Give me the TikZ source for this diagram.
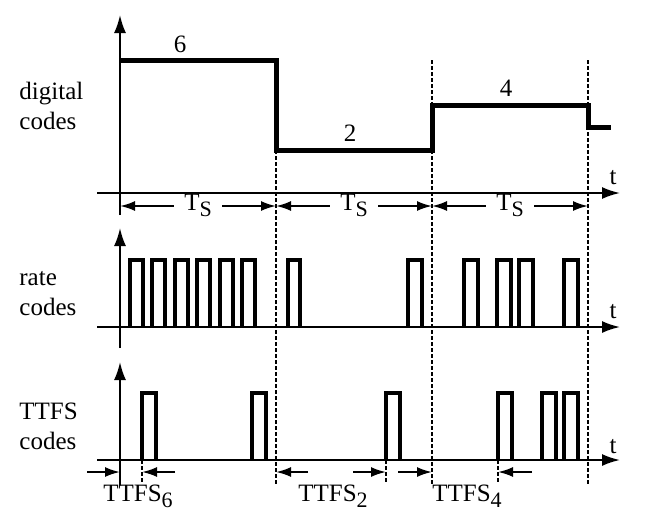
\documentclass[tikz,border=0pt]{standalone}
\usepackage{fontspec}
\setmainfont{Liberation Serif}
\usetikzlibrary{
    arrows.meta,
    positioning
}
\newcommand{\lowsub}[1]{\raisebox{-0.5ex}{\fontsize{11}{11}\selectfont #1}}
\tikzset{
    axis/.style={line width=1pt, -{Latex[length=9pt, width=6pt]}},
    level/.style={line width=2.5pt},
    spike/.style={line width=1.8pt},
    bound/.style={line width=1pt, dash pattern=on 2pt off 1pt},
    dim/.style={line width=1pt, -{Latex[length=7.5pt, width=5pt]}},
    lbl/.style={font=\fontsize{12.5}{15}\selectfont, inner sep=0pt}
}

\begin{document}
\begin{tikzpicture}[x=0.5pt, y=-0.5pt]
    \useasboundingbox (0, 0) rectangle (656, 526);

    % period boundaries
    \coordinate (b0) at (120, 0);
    \coordinate (b1) at (276, 0);
    \coordinate (b2) at (432, 0);
    \coordinate (b3) at (588, 0);
    \draw[bound]
    (276, 150) -- (276, 485)
    (432, 60) -- (432, 485)
    (588, 60) -- (588, 485);

    \begin{scope}[shift={(0, 193)}]
        \node[lbl, align=left, anchor=west] (digital) at (19, -87) {digital\\codes};
        \draw[axis] (97, 0) -- (620, 0);
        \draw[axis] (120, 22) -- (120, -178);
        \node[lbl] (tdig) at (613, -15) {t};
        \draw[level]
        (120, -133) -- (276, -133) -- (276, -43) -- (432, -43)
        -- (432, -88) -- (588, -88) -- (588, -66) -- (611, -66);
        \node[lbl] (n6) at (180, -149) {6};
        \node[lbl] (n2) at (350, -60) {2};
        \node[lbl] (n4) at (506, -105) {4};

        \node[lbl, anchor=mid, inner xsep=5pt] (ts1) at (198, 13) {T\lowsub{S}};
        \node[lbl, anchor=mid, inner xsep=5pt] (ts2) at (354, 13) {T\lowsub{S}};
        \node[lbl, anchor=mid, inner xsep=5pt] (ts3) at (510, 13) {T\lowsub{S}};
        \draw[dim] (ts1.mid west) -- (ts1.mid west -| b0);
        \draw[dim] (ts1.mid east) -- (ts1.mid east -| b1);
        \draw[dim] (ts2.mid west) -- (ts2.mid west -| b1);
        \draw[dim] (ts2.mid east) -- (ts2.mid east -| b2);
        \draw[dim] (ts3.mid west) -- (ts3.mid west -| b2);
        \draw[dim] (ts3.mid east) -- (ts3.mid east -| b3);
    \end{scope}

    \begin{scope}[shift={(0, 327)}]
        \node[lbl, align=left, anchor=west] (rate) at (19, -33) {rate\\codes};
        \draw[axis] (97, 0) -- (620, 0);
        \draw[axis] (120, 21) -- (120, -99);
        \node[lbl] (trate) at (613, -15) {t};
        \draw[spike]
        (130, 0) |- (143, -67) -- (143, 0)
        (152, 0) |- (165, -67) -- (165, 0)
        (175, 0) |- (188, -67) -- (188, 0)
        (197, 0) |- (210, -67) -- (210, 0)
        (220, 0) |- (233, -67) -- (233, 0)
        (242, 0) |- (255, -67) -- (255, 0)
        (288, 0) |- (300, -67) -- (300, 0)
        (408, 0) |- (422, -67) -- (422, 0)
        (464, 0) |- (478, -67) -- (478, 0)
        (497, 0) |- (511, -67) -- (511, 0)
        (519, 0) |- (533, -67) -- (533, 0)
        (564, 0) |- (578, -67) -- (578, 0);
    \end{scope}

    \begin{scope}[shift={(0, 460)}]
        \node[lbl, align=left, anchor=west] (ttfs) at (19, -34) {TTFS\\codes};
        \draw[axis] (97, 0) -- (620, 0);
        \draw[axis] (120, 25) -- (120, -98);
        \node[lbl] (tttfs) at (613, -13) {t};
        \draw[spike]
        (142, 0) |- (156, -67) -- (156, 0)
        (252, 0) |- (266, -67) -- (266, 0)
        (386, 0) |- (400, -67) -- (400, 0)
        (498, 0) |- (512, -67) -- (512, 0)
        (542, 0) |- (556, -67) -- (556, 0)
        (564, 0) |- (578, -67) -- (578, 0);

        \coordinate (s6) at (142, 12);
        \coordinate (s2) at (386, 12);
        \coordinate (s4) at (498, 12);
        \draw[bound]
        (142, 0) -- (142, 23)
        (386, 0) -- (386, 23)
        (498, 0) -- (498, 23);

        \draw[dim] ([xshift=-16.5pt]s6 -| b0) -- (s6 -| b0);
        \draw[dim] ([xshift=16.5pt]s6) -- (s6);
        \draw[dim] ([xshift=16pt]s2 -| b1) -- (s2 -| b1);
        \draw[dim] ([xshift=-16.5pt]s2) -- (s2);
        \draw[dim] ([xshift=-17pt]s4 -| b2) -- (s4 -| b2);
        \draw[dim] ([xshift=17pt]s4) -- (s4);

        \node[lbl, anchor=mid] (ttfs6) at (138, 37) {TTFS\lowsub{6}};
        \node[lbl, anchor=mid] (ttfs2) at (333, 37) {TTFS\lowsub{2}};
        \node[lbl, anchor=mid] (ttfs4) at (467, 37) {TTFS\lowsub{4}};
    \end{scope}
\end{tikzpicture}
\end{document}
